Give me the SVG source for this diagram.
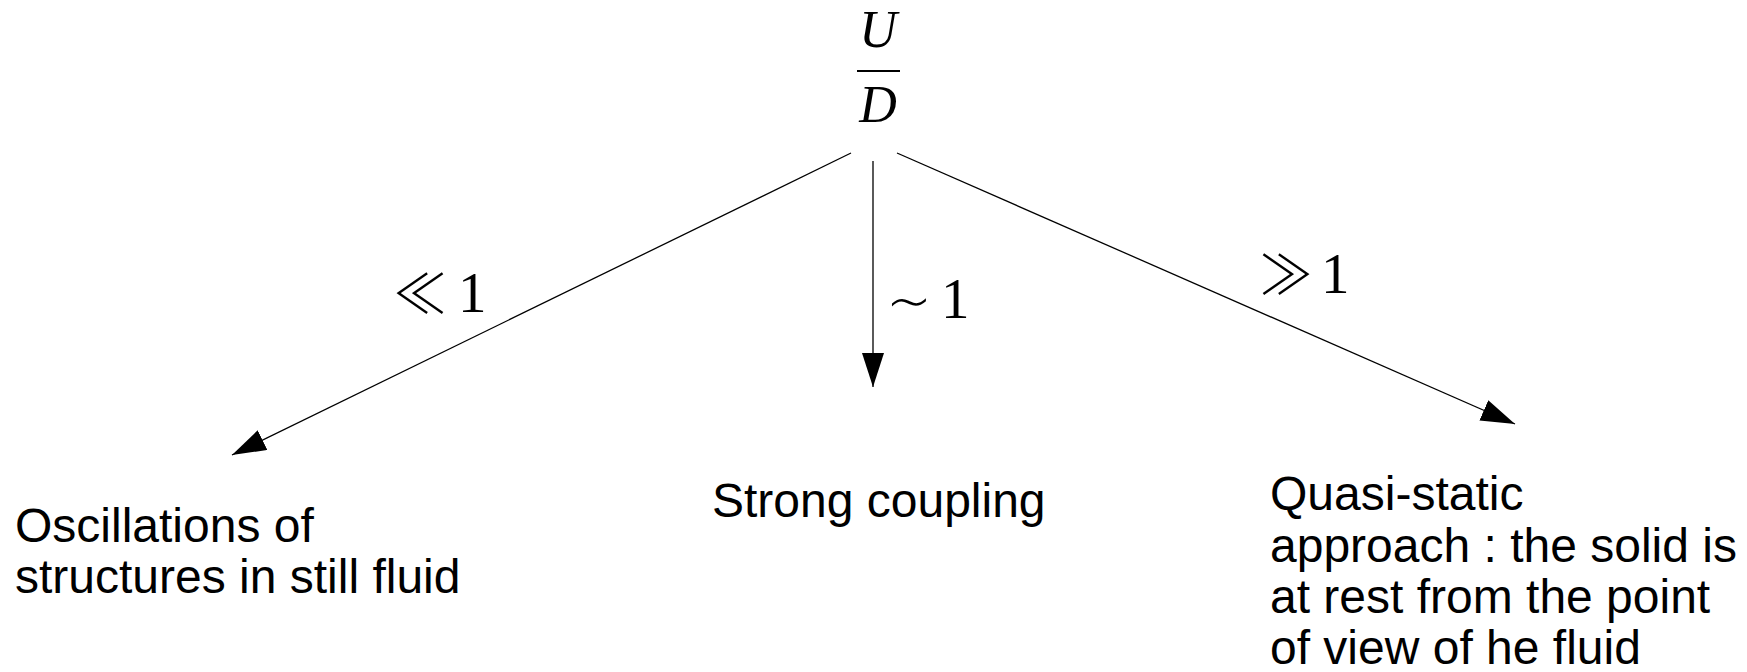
<svg xmlns="http://www.w3.org/2000/svg" width="1747" height="672" viewBox="0 0 1747 672">
<style>
.txt{font-family:"Liberation Sans",Arial,sans-serif;font-size:48px;fill:#000}
.math{font-family:"Liberation Serif","DejaVu Serif",serif;font-size:57px;fill:#000}
.rel{font-family:"Noto Sans CJK JP","DejaVu Sans",sans-serif;font-weight:300;font-size:54px;fill:#000}
.sim{font-family:"DejaVu Sans",sans-serif;font-weight:200;font-size:62px;fill:#000}
.cal{font-family:"Liberation Serif","DejaVu Serif",serif;font-style:italic;font-size:52px;fill:#000}
.conn{stroke:#000;stroke-width:1.3;fill:none;marker-end:url(#ah)}
</style>
<defs>
<marker id="ah" markerUnits="userSpaceOnUse" markerWidth="36" markerHeight="24" refX="34" refY="11" orient="auto" viewBox="0 0 36 24">
<path d="M0,0 L34,11 L0,22 z" fill="#000"/>
</marker>
</defs>
<rect width="1747" height="672" fill="#fff"/>
<g id="root">
<text class="cal" x="878" y="47" text-anchor="middle">U</text>
<line x1="857" y1="71" x2="900" y2="71" stroke="#000" stroke-width="2"/>
<text class="cal" x="878" y="122" text-anchor="middle">D</text>
</g>
<g id="connectors">
<line class="conn" x1="851" y1="153" x2="232" y2="455"/>
<line class="conn" x1="873" y1="161" x2="873" y2="387"/>
<line class="conn" x1="897" y1="153" x2="1515" y2="424"/>
<g id="lbl-left"><text class="rel" x="420" y="314" text-anchor="middle">≪</text><text class="math" x="458" y="312">1</text></g>
<g id="lbl-mid"><text class="sim" transform="translate(909,324) scale(1.15,1)" text-anchor="middle">∼</text><text class="math" x="941" y="318">1</text></g>
<g id="lbl-right"><text class="rel" x="1286" y="295" text-anchor="middle">≫</text><text class="math" x="1321" y="293">1</text></g>
</g>
<g id="node-left">
<text class="txt" x="15" y="542">Oscillations of</text>
<text class="txt" x="15" y="593">structures in still fluid</text>
</g>
<g id="node-mid">
<text class="txt" x="712" y="517">Strong coupling</text>
</g>
<g id="node-right">
<text class="txt" x="1270" y="510">Quasi-static</text>
<text class="txt" x="1270" y="562">approach : the solid is</text>
<text class="txt" x="1270" y="613">at rest from the point</text>
<text class="txt" x="1270" y="664">of view of he fluid</text>
</g>
</svg>
